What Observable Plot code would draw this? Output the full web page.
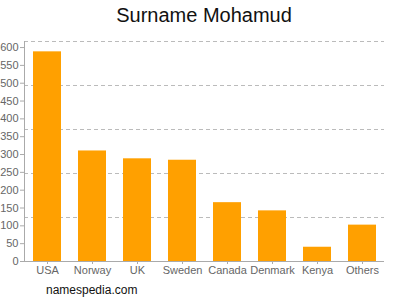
<!DOCTYPE html>
<html>
<head>
<meta charset="utf-8">
<script src="https://cdn.jsdelivr.net/npm/d3@7"></script>
<script src="https://cdn.jsdelivr.net/npm/@observablehq/plot@0.6"></script>
<style>
  body { margin: 0; background: #fff; font-family: "Liberation Sans", Arial, sans-serif; }
  #wrap { width: 400px; height: 300px; position: relative; overflow: hidden; }
  #title { height: 36px; line-height: 30px; text-align: center; font-size: 20px; color: #111; padding-left: 8px; }
  #caption { height: 20px; line-height: 21px; font-size: 12px; color: #111; padding-left: 46px; }
  svg { display: block; }
</style>
</head>
<body>
<div id="wrap">
  <div id="title">Surname Mohamud</div>
  <div id="chart"></div>
  <div id="caption">namespedia.com</div>
</div>
<script>
const countries = ["USA", "Norway", "UK", "Sweden", "Canada", "Denmark", "Kenya", "Others"];
const counts = [588, 310, 288, 284, 165, 142, 40, 102];
const yTicks = [0, 50, 100, 150, 200, 250, 300, 350, 400, 450, 500, 550, 600];
const gridLines = [123.4, 246.8, 370.2, 493.6, 617];
const yMax = 617;

const data = countries.map((c, i) => ({country: c, count: counts[i]}));

const chart = Plot.plot({
  width: 400,
  height: 244,
  marginTop: 5,
  marginBottom: 19,
  marginLeft: 24,
  marginRight: 16,
  style: {fontFamily: "'Liberation Sans', Arial, sans-serif", fontSize: "11px", color: "#666"},
  x: {domain: countries, paddingInner: 0.38, paddingOuter: 0.19, label: null},
  y: {domain: [0, yMax], label: null},
  marks: [
    Plot.ruleY(gridLines, {stroke: "#bbb", strokeDasharray: "4,3", strokeWidth: 1}),
    Plot.barY(data, {x: "country", y: "count", fill: "#ffa000"}),
    Plot.ruleY([0], {stroke: "#aaa"}),
    Plot.frame({anchor: "left", stroke: "#aaa"}),
    Plot.axisY({ticks: yTicks, tickSize: 4, tickPadding: 2, stroke: "#aaa", fill: "#666", fontSize: 11}),
    Plot.axisX({tickSize: 3, tickPadding: 2, stroke: "#aaa", fill: "#666", fontSize: 11})
  ]
});
document.getElementById("chart").appendChild(chart);
</script>
</body>
</html>
